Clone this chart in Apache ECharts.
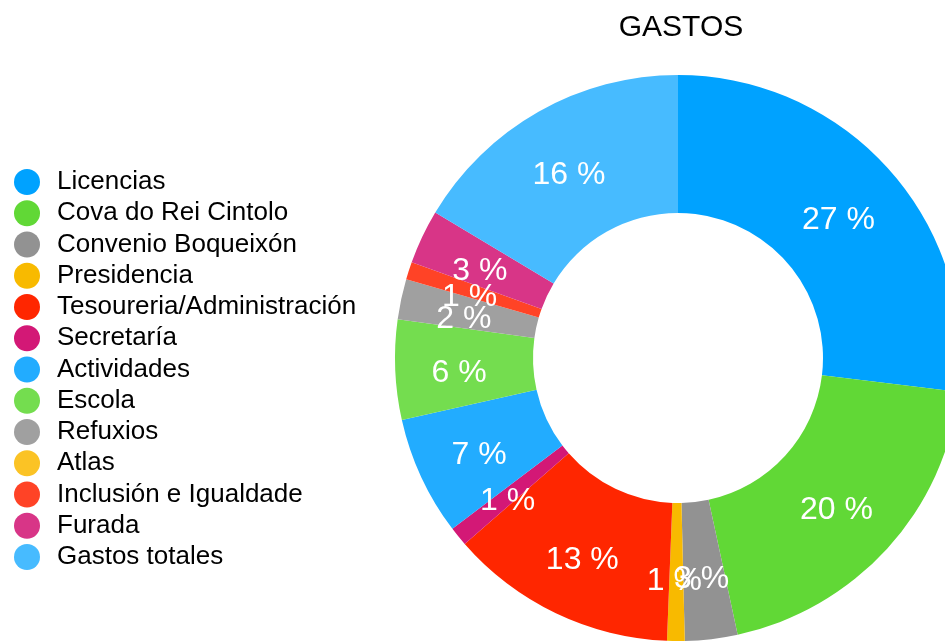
<!DOCTYPE html>
<html lang="es">
<head>
	<meta charset="UTF-8">
	<title>GASTOS</title>
	<script src="https://cdn.jsdelivr.net/npm/echarts@6/dist/echarts.min.js"></script>
	<style>
		html, body { margin: 0; padding: 0; background: #fff; }
		#chart { width: 945px; height: 643px; }
	</style>
</head>
<body>
	<div id="chart"></div>
	<script>
		// datos (porcentaxes)
		var categories = ['Licencias', 'Cova do Rei Cintolo', 'Convenio Boqueixón', 'Presidencia',
			'Tesoureria/Administración', 'Secretaría', 'Actividades', 'Escola', 'Refuxios',
			'Atlas', 'Inclusión e Igualdade', 'Furada', 'Gastos totales'];
		var values = [26.9, 19.7, 3.0, 1.0, 12.96, 1.1, 6.8, 5.7, 2.3, 0, 1.0, 3.1, 16.4];
		var colors = ['#00a2ff', '#61d836', '#929292', '#f8ba00', '#ff2600', '#d31876',
			'#22acff', '#74dd4f', '#a0a0a0', '#fbc325', '#ff4326', '#d83587', '#47bbff'];

		var fontFam = "'Helvetica Neue', Helvetica, 'Liberation Sans', Arial, sans-serif";

		var pieData = categories.map(function (name, i) {
			return { name: name, value: values[i], itemStyle: { color: colors[i] } };
		});

		var chart = echarts.init(document.getElementById('chart'));
		chart.setOption({
			animation: false,
			title: {
				text: 'GASTOS',
				left: 676,
				top: 8,
				textAlign: 'center',
				textStyle: { color: '#000', fontSize: 30, fontWeight: 'normal', fontFamily: fontFam }
			},
			legend: {
				orient: 'vertical',
				left: 9,
				top: 164,
				icon: 'circle',
				itemWidth: 50,
				itemHeight: 26,
				itemGap: 5.25,
				selectedMode: false,
				textStyle: { color: '#000', fontSize: 26, lineHeight: 26, fontFamily: fontFam },
				data: categories
			},
			series: [{
				type: 'pie',
				center: [678, 358],
				radius: [145, 283],
				startAngle: 90,
				clockwise: true,
				avoidLabelOverlap: false,
				label: {
					show: true,
					position: 'inside',
					color: '#fff',
					fontSize: 32,
					fontFamily: fontFam,
					offset: [-2, 6],
					formatter: function (p) {
						if (!p.value) return '';
						return Math.round(p.percent) + ' %';
					}
				},
				labelLayout: { hideOverlap: false },
				labelLine: { show: false },
				emphasis: { disabled: true },
				data: pieData
			}]
		});
	</script>
</body>
</html>
